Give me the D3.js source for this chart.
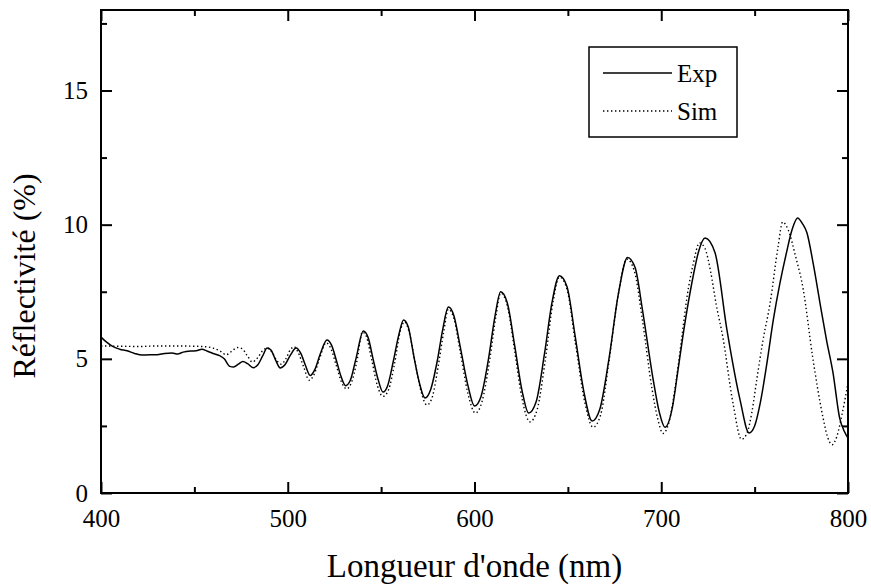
<!DOCTYPE html>
<html>
<head>
<meta charset="utf-8">
<script src="https://cdn.jsdelivr.net/npm/d3@7"></script>
<style>
  body { margin: 0; background: #fff; }
</style>
</head>
<body>
<script>
const W = 871, H = 584;
const margin = {top: 10, right: 23, bottom: 91, left: 101};
const width = W - margin.left - margin.right;
const height = H - margin.top - margin.bottom;
const serif = "Liberation Serif";

// tick values
const xMajor = [400, 500, 600, 700, 800];
const xMinor = [450, 550, 650, 750];
const yMajor = [0, 5, 10, 15];
const yMinor = [2.5, 7.5, 12.5, 17.5];

// [wavelength nm, reflectivity %]
const expData = [[400,5.81],[403,5.62],[406,5.47],[410,5.36],[414,5.3],[418,5.2],[422,5.14],[426,5.15],[430,5.15],
  [434,5.2],[438,5.22],[441,5.18],[444,5.25],[448,5.29],[451,5.3],[454,5.36],[457,5.28],[460,5.2],[463.5,5.12],
  [466,5.0],[469,4.72],[471,4.7],[473.5,4.8],[476,4.9],[478.5,4.82],[481.5,4.67],[484,4.78],[486.5,5.1],[489,5.4],
  [491,5.33],[493.5,4.95],[496,4.66],[498.5,4.78],[501.5,5.15],[504.5,5.4],[507,5.2],[509.5,4.75],[512,4.38],
  [514.5,4.6],[517.5,5.2],[521,5.7],[523.5,5.5],[526,4.95],[528.5,4.35],[531,4.0],[533.5,4.2],[536.5,5.0],
  [540.5,6.04],[543,5.8],[546,4.9],[548.5,4.2],[551,3.76],[553.5,4.0],[556.5,4.9],[559.5,5.9],[562,6.45],
  [564.5,6.2],[567.5,5.1],[570.5,4.1],[573.5,3.54],[576.5,3.85],[580,4.9],[583,6.1],[586,6.93],[589,6.6],
  [592.5,5.4],[596.5,4.0],[600,3.24],[603.5,3.6],[607.5,5.0],[611,6.6],[614,7.5],[617.5,7.1],[621.5,5.5],
  [625.5,3.8],[629,2.98],[633,3.4],[637.5,5.2],[641.5,7.1],[645.5,8.1],[649.5,7.7],[654,5.8],[658.5,3.8],
  [663,2.68],[667,3.1],[672,5.0],[677,7.4],[682,8.78],[686,8.4],[690,6.8],[695.5,4.3],[699,3.0],[702,2.45],
  [706,3.2],[709,4.6],[711.5,5.8],[714.5,7.1],[717,8.05],[720,9.0],[723.5,9.5],[728.8,8.95],[735.2,6.07],
  [742.2,3.47],[747,2.24],[750,2.5],[753,3.35],[756.5,4.8],[760,6.45],[763.5,7.8],[767,8.94],[770,9.8],
  [773,10.25],[775.5,10.05],[778,9.7],[781.5,8.5],[785,7.08],[788.5,5.7],[792,4.47],[795.5,2.8],[798,2.3],[800,2.05]];

const simData = [[400,5.48],[410,5.47],[420,5.46],[430,5.48],[440,5.48],[450,5.47],[456,5.45],[460,5.4],[464,5.28],
  [467,5.15],[470,5.28],[473,5.42],[475.5,5.38],[478.5,5.1],[481,4.88],[484,5.05],[486.5,5.3],[489,5.4],
  [491.5,5.25],[494,4.95],[496.5,4.8],[499,5.0],[501.5,5.35],[503.5,5.45],[505.5,5.25],[508.5,4.7],[511.5,4.2],
  [514,4.4],[517,5.0],[520.5,5.6],[523,5.4],[526,4.75],[529,4.1],[531.5,3.88],[534,4.1],[537,4.9],[540,6.0],
  [542,5.85],[545,4.95],[548,4.0],[551,3.6],[554,3.85],[557,4.75],[560.5,6.1],[562.5,6.38],[565,6.0],
  [568.5,4.75],[571.5,3.75],[574.5,3.28],[577.5,3.6],[580.5,4.7],[583.5,6.0],[586,6.85],[589,6.5],[592.5,5.2],
  [596.5,3.7],[600.5,2.98],[604,3.4],[608,4.9],[611.5,6.6],[614,7.45],[617.5,7.0],[621.5,5.3],[625.5,3.5],
  [629.7,2.65],[633.5,3.1],[638,5.0],[642,7.1],[645.5,8.05],[649.5,7.6],[654,5.6],[659,3.4],[663.5,2.45],
  [667.5,2.9],[672,4.9],[677,7.4],[681.5,8.72],[685.5,8.3],[690,6.4],[695,3.9],[698,2.8],[701,2.22],[704,2.6],
  [708,4.2],[711,5.8],[714,7.4],[717,8.5],[720.5,9.32],[723.5,9.1],[726.3,8.3],[729.5,7.0],[733,5.8],
  [738.4,3.35],[743,2.0],[746,2.25],[748.5,3.0],[751.3,4.3],[754.5,5.7],[758.3,7.08],[762.6,9.2],[765,10.1],
  [768,9.8],[772,8.8],[776,7.6],[781,5.1],[786.5,2.85],[789,2.1],[791.5,1.8],[794,2.1],[797,3.0],[800,4.1]];

const seriesNames = ["Exp", "Sim"];

var x = d3.scaleLinear().domain([400, 800]).range([0, width]);
var y = d3.scaleLinear().domain([0, 18]).range([height, 0]);

var svg = d3.select("body").append("svg")
    .attr("width", W)
    .attr("height", H)
    .attr("font-family", serif)
  .append("g")
    .attr("transform", "translate(" + margin.left + "," + margin.top + ")");

function styleAxis(g) {
  g.attr("font-family", serif).attr("font-size", 25);
  g.select(".domain").remove();
  g.selectAll("line").attr("stroke", "#000").attr("stroke-width", 2);
  g.selectAll("text").attr("fill", "#000");
}

// major / minor ticks on every side, pointing inward
svg.append("g").attr("transform", "translate(0," + height + ")")
  .call(d3.axisBottom(x).tickValues(xMajor).tickSize(-11).tickPadding(16).tickFormat(d3.format("d")))
  .call(styleAxis);
svg.append("g").attr("transform", "translate(0," + height + ")")
  .call(d3.axisBottom(x).tickValues(xMinor).tickSize(-6).tickFormat(""))
  .call(styleAxis);
svg.append("g")
  .call(d3.axisTop(x).tickValues(xMajor).tickSize(-11).tickFormat(""))
  .call(styleAxis);
svg.append("g")
  .call(d3.axisTop(x).tickValues(xMinor).tickSize(-6).tickFormat(""))
  .call(styleAxis);
svg.append("g")
  .call(d3.axisLeft(y).tickValues(yMajor).tickSize(-11).tickPadding(13).tickFormat(d3.format("d")))
  .call(styleAxis);
svg.append("g")
  .call(d3.axisLeft(y).tickValues(yMinor).tickSize(-6).tickFormat(""))
  .call(styleAxis);
svg.append("g").attr("transform", "translate(" + width + ",0)")
  .call(d3.axisRight(y).tickValues(yMajor).tickSize(-11).tickFormat(""))
  .call(styleAxis);
svg.append("g").attr("transform", "translate(" + width + ",0)")
  .call(d3.axisRight(y).tickValues(yMinor).tickSize(-6).tickFormat(""))
  .call(styleAxis);

// frame
svg.append("rect")
  .attr("width", width).attr("height", height)
  .attr("fill", "none").attr("stroke", "#000").attr("stroke-width", 2);

var line = d3.line()
  .x(function(d) { return x(d[0]); })
  .y(function(d) { return y(d[1]); })
  .curve(d3.curveMonotoneX);

svg.append("path").datum(simData)
  .attr("d", line).attr("fill", "none")
  .attr("stroke", "#000").attr("stroke-width", 1.4)
  .attr("stroke-dasharray", "1.4,2.6");

svg.append("path").datum(expData)
  .attr("d", line).attr("fill", "none")
  .attr("stroke", "#000").attr("stroke-width", 1.5);

// axis titles
svg.append("text")
  .attr("x", width / 2).attr("y", 577 - margin.top)
  .attr("text-anchor", "middle")
  .attr("font-family", serif).attr("font-size", 33)
  .text("Longueur d'onde (nm)");

svg.append("text")
  .attr("transform", "translate(" + (35 - margin.left) + "," + (276 - margin.top) + ") rotate(-90)")
  .attr("text-anchor", "middle")
  .attr("font-family", serif).attr("font-size", 32)
  .text("Réflectivité (%)");

// legend
var lg = svg.append("g").attr("transform", "translate(" + (589 - margin.left) + "," + (47 - margin.top) + ")");
lg.append("rect").attr("width", 148).attr("height", 90)
  .attr("fill", "#fff").attr("stroke", "#000").attr("stroke-width", 1.5);
seriesNames.forEach(function(name, i) {
  var yy = 26 + i * 38;
  lg.append("line")
    .attr("x1", 14).attr("x2", 83).attr("y1", yy).attr("y2", yy)
    .attr("stroke", "#000").attr("stroke-width", 1.4)
    .attr("stroke-dasharray", i === 1 ? "1.4,2.6" : null);
  lg.append("text")
    .attr("x", 88).attr("y", yy + 9)
    .attr("font-family", serif).attr("font-size", 25)
    .text(name);
});
</script>
</body>
</html>
